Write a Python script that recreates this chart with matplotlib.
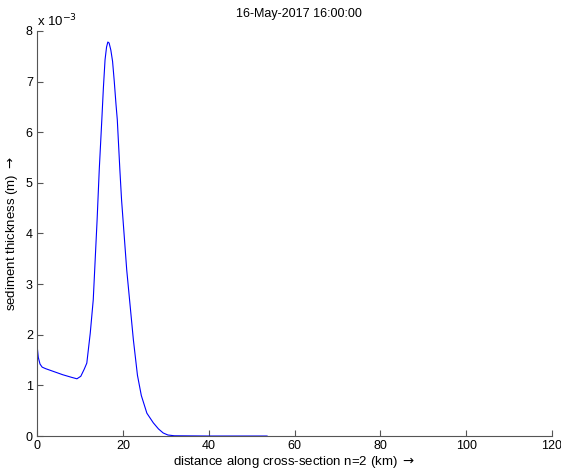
import numpy as np
import matplotlib
matplotlib.use("Agg")
from matplotlib import pyplot as plt

plt.rcParams["font.family"] = ["Liberation Sans", "DejaVu Sans"]
plt.rcParams["mathtext.fontset"] = "dejavusans"

# sediment thickness along cross-section n=2 (x in km, thickness in 1e-3 m)
distance_km = [0.0, 0.3, 0.7, 1.2, 2.0, 4.0, 6.0, 8.0, 9.3, 10.2, 11.0, 11.6, 12.4, 13.1,
               14.0, 14.5, 15.1, 15.46, 15.85, 16.2, 16.5, 16.8, 17.2, 17.6, 18.0, 18.4,
               18.7, 19.3, 19.7, 20.9, 22.45, 23.4, 24.3, 25.6, 27.1, 28.3, 29.4, 30.5,
               32.0, 40.0, 53.6]
thickness_e3 = [1.80, 1.55, 1.42, 1.36, 1.33, 1.27, 1.21, 1.16, 1.13, 1.18, 1.32, 1.44,
                2.03, 2.69, 4.27, 5.26, 6.25, 6.87, 7.43, 7.68, 7.78, 7.76, 7.62, 7.40,
                7.00, 6.55, 6.25, 5.26, 4.66, 3.28, 1.90, 1.20, 0.80, 0.45, 0.26, 0.14,
                0.06, 0.02, 0.005, 0.0, 0.0]
x_ticks = [0, 20, 40, 60, 80, 100, 120]
y_ticks = [0, 1, 2, 3, 4, 5, 6, 7, 8]

fig = plt.figure(figsize=(5.61, 4.70), dpi=100)
ax = fig.add_axes([0.066, 0.0723, 0.918, 0.862])

ax.plot(distance_km, np.array(thickness_e3) * 1e-3, color="#0000ff", lw=0.8)

ax.set_xlim(0, 120)
ax.set_ylim(0, 8e-3)
ax.set_xticks(x_ticks)
ax.set_xticklabels([str(t) for t in x_ticks])
ax.set_yticks([t * 1e-3 for t in y_ticks])
ax.set_yticklabels([str(t) for t in y_ticks])

for side in ["top", "right"]:
    ax.spines[side].set_visible(False)
for side in ["left", "bottom"]:
    ax.spines[side].set_color("#555555")
    ax.spines[side].set_linewidth(0.8)
ax.tick_params(direction="in", length=4, width=0.8, colors="#555555",
               labelcolor="black", labelsize=9, pad=3)

ax.text(0.0, 1.005, "x 10$^{-3}$", transform=ax.transAxes, fontsize=9.5,
        ha="left", va="bottom")
ax.set_title("16-May-2017 16:00:00", fontsize=9, pad=10, x=0.508)
ax.set_xlabel("distance along cross-section n=2 (km) $\\rightarrow$", fontsize=9.5, labelpad=1)
ax.set_ylabel("sediment thickness (m) $\\rightarrow$", fontsize=9.5, labelpad=4)

fig.savefig("out.png", dpi=100)
